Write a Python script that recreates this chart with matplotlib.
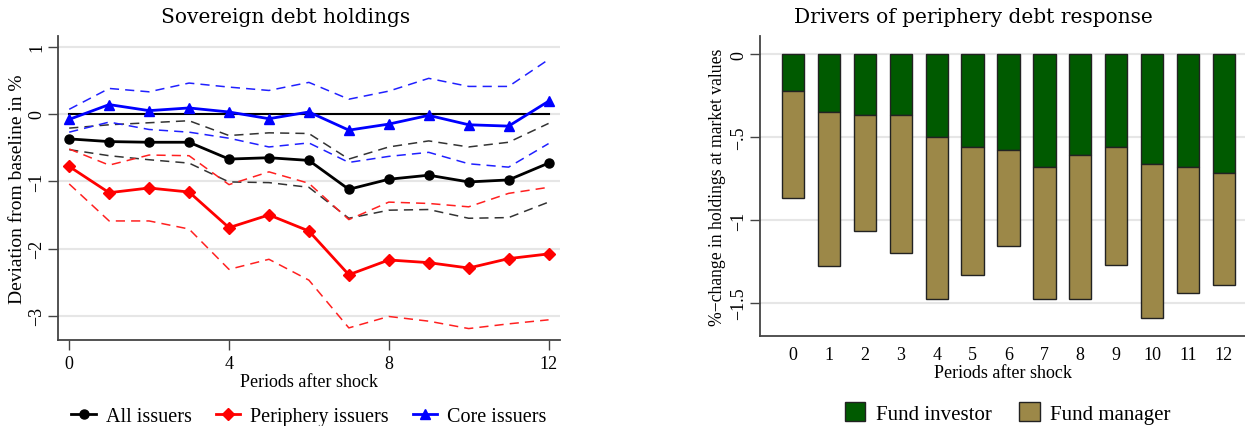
import numpy as np
import matplotlib
matplotlib.use("Agg")
import matplotlib.pyplot as plt
from matplotlib.patches import Patch

plt.rcParams['font.family'] = ['Liberation Serif', 'DejaVu Serif']

# ---- left panel: impulse responses with bands ----
periods = np.arange(13)

all_mid = [-0.37, -0.41, -0.42, -0.42, -0.67, -0.65, -0.69, -1.12, -0.97, -0.91, -1.01, -0.98, -0.73]
all_hi = [-0.21, -0.16, -0.13, -0.10, -0.32, -0.28, -0.29, -0.67, -0.49, -0.40, -0.49, -0.42, -0.14]
all_lo = [-0.53, -0.62, -0.68, -0.73, -1.01, -1.02, -1.09, -1.55, -1.43, -1.42, -1.55, -1.54, -1.31]

per_mid = [-0.78, -1.17, -1.10, -1.16, -1.69, -1.50, -1.74, -2.39, -2.17, -2.21, -2.29, -2.15, -2.08]
per_hi = [-0.52, -0.76, -0.61, -0.62, -1.05, -0.86, -1.03, -1.57, -1.31, -1.33, -1.38, -1.18, -1.09]
per_lo = [-1.04, -1.59, -1.59, -1.71, -2.31, -2.16, -2.47, -3.18, -3.01, -3.08, -3.19, -3.12, -3.06]

core_mid = [-0.08, 0.14, 0.05, 0.09, 0.03, -0.07, 0.03, -0.24, -0.15, -0.02, -0.16, -0.18, 0.19]
core_hi = [0.07, 0.38, 0.33, 0.46, 0.40, 0.35, 0.47, 0.22, 0.34, 0.53, 0.41, 0.41, 0.81]
core_lo = [-0.27, -0.12, -0.23, -0.27, -0.36, -0.49, -0.43, -0.72, -0.63, -0.57, -0.74, -0.79, -0.44]

# ---- right panel: decomposition ----
bar_periods = np.arange(13)
fund_investor = [-0.22, -0.35, -0.37, -0.37, -0.50, -0.56, -0.58, -0.68, -0.61, -0.56, -0.66, -0.68, -0.72]
fund_manager = [-0.65, -0.93, -0.70, -0.83, -0.98, -0.77, -0.58, -0.80, -0.87, -0.71, -0.93, -0.76, -0.67]

GRID = '#e6e6e6'
GREEN = '#005a00'
TAN = '#9c8848'
AXC = '#444444'

fig = plt.figure(figsize=(12.45, 4.27), dpi=100)


def style_axes(ax):
    ax.spines['top'].set_visible(False)
    ax.spines['right'].set_visible(False)
    for s in ['left', 'bottom']:
        ax.spines[s].set_color(AXC)
        ax.spines[s].set_linewidth(1.3)


# left
ax1 = fig.add_axes([0.0466, 0.2014, 0.403, 0.712])
for y in [1, 0, -1, -2, -3]:
    ax1.axhline(y, color=GRID, lw=1.5, zorder=0)
ax1.plot([0, 12], [0, 0], color='black', lw=1.5, zorder=1)

dash = (0, (6, 4))
ax1.plot(periods, all_hi, color='#333333', lw=1.1, ls=dash)
ax1.plot(periods, all_lo, color='#333333', lw=1.1, ls=dash)
ax1.plot(periods, per_hi, color='#ff2020', lw=1.1, ls=dash)
ax1.plot(periods, per_lo, color='#ff2020', lw=1.1, ls=dash)
ax1.plot(periods, core_hi, color='#2020ff', lw=1.1, ls=dash)
ax1.plot(periods, core_lo, color='#2020ff', lw=1.1, ls=dash)

l_all, = ax1.plot(periods, all_mid, color='black', lw=2, marker='o', ms=6.5, label='All issuers')
l_per, = ax1.plot(periods, per_mid, color='red', lw=2, marker='D', ms=6.5, label='Periphery issuers')
l_core, = ax1.plot(periods, core_mid, color='blue', lw=2, marker='^', ms=7.5, label='Core issuers')

ax1.set_xlim(-0.28, 12.28)
ax1.set_ylim(-3.36, 1.16)
ax1.set_xticks([0, 4, 8, 12])
ax1.set_yticks([1, 0, -1, -2, -3])
ax1.set_yticklabels(['1', '0', '\u22121', '\u22122', '\u22123'], rotation=90, va='center')
ax1.tick_params(labelsize=13, length=7, width=1, color=AXC)
ax1.tick_params(axis='y', pad=2)
style_axes(ax1)
ax1.set_xlabel('Periods after shock', fontsize=13, labelpad=1)
ax1.set_ylabel('Deviation from baseline in %', fontsize=14, labelpad=2)
ax1.set_title('Sovereign debt holdings', fontsize=14.5, pad=10, x=0.454,
              family=['DejaVu Serif'])
ax1.legend(handles=[l_all, l_per, l_core], loc='upper center', bbox_to_anchor=(0.5, -0.18),
           ncol=3, frameon=False, fontsize=14.5, handlelength=1.2, columnspacing=1.2,
           handletextpad=0.5, borderaxespad=0.2)

# right
ax2 = fig.add_axes([0.6104, 0.211, 0.39, 0.7026])
for y in [0, -0.5, -1, -1.5]:
    ax2.axhline(y, color=GRID, lw=1.5, zorder=0)
inv = np.array(fund_investor)
man = np.array(fund_manager)
ax2.bar(bar_periods, inv, width=0.62, color=GREEN, edgecolor='#222222', lw=1, zorder=2)
ax2.bar(bar_periods, man, width=0.62, bottom=inv, color=TAN, edgecolor='#222222', lw=1, zorder=2)
ax2.set_xlim(-0.92, 12.6)
ax2.set_ylim(-1.70, 0.11)
ax2.set_xticks(bar_periods)
ax2.set_yticks([0, -0.5, -1, -1.5])
ax2.set_yticklabels(['0', '\u2212.5', '\u22121', '\u22121.5'], rotation=90, va='center')
ax2.tick_params(axis='y', labelsize=13, length=7, width=1, color=AXC, pad=2)
ax2.tick_params(axis='x', labelsize=13, length=0, pad=7)
style_axes(ax2)
ax2.set_xlabel('Periods after shock', fontsize=13, labelpad=1)
ax2.set_ylabel('%\u2212change in holdings at market values', fontsize=12.7, labelpad=3)
ax2.set_title('Drivers of periphery debt response', fontsize=14.5, pad=10, x=0.44,
              family=['DejaVu Serif'])
ax2.legend(handles=[Patch(facecolor=GREEN, edgecolor='#222222', label='Fund investor'),
                    Patch(facecolor=TAN, edgecolor='#222222', label='Fund manager')],
           loc='upper center', bbox_to_anchor=(0.51, -0.18), ncol=2, frameon=False,
           fontsize=15, handlelength=1.0, handleheight=1.0, columnspacing=1.3,
           handletextpad=0.5, borderaxespad=0.2)

fig.savefig('out.png', dpi=100)
